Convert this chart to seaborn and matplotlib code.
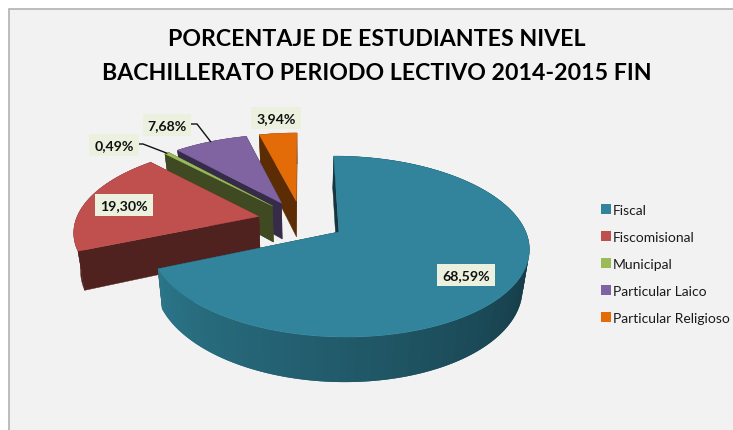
import matplotlib
matplotlib.use("Agg")
import matplotlib.pyplot as plt
import numpy as np
import seaborn as sns
from matplotlib.patches import Patch, Rectangle

categories = ["Fiscal", "Fiscomisional", "Municipal", "Particular Laico", "Particular Religioso"]
values = [68.59, 19.30, 0.49, 7.68, 3.94]
title_lines = ["PORCENTAJE DE ESTUDIANTES NIVEL", "BACHILLERATO PERIODO LECTIVO 2014-2015 FIN"]

top_colors = ["#31849b", "#c0504d", "#9bbb59", "#8064a2", "#e36c09"]
side_colors = ["#14363f", "#4f211f", "#3f4a22", "#372b4a", "#5c2c05"]
rim_colors = ["#14363f", "#12323c", "#1f5463", "#2b7689"]

# label box centres, pixels
label_pos = [(466, 276), (124, 206), (114, 146), (167, 126), (276, 119)]

# projection of the pie plane onto the picture (pixels)
X0, Y0 = 301.5, 221.5
SCALE_X, SCALE_Y = 183, 84.5
PERSP = 0.158
EXPLODE = 0.24
DEPTH = 37
SHRINK = 0.97
N_ARC = 360


def project(x, z, lower=False):
    w = 1 + PERSP * z
    sx = SCALE_X * x / w
    sy = -SCALE_Y * z / w
    if lower:
        return X0 + SHRINK * sx, Y0 + sy + DEPTH / w
    return X0 + sx, Y0 + sy


def slice_plane(start, end, n=N_ARC):
    # angles clockwise from 12 o'clock, returns apex offset and arc points
    mid = np.radians((start + end) / 2)
    ox, oz = EXPLODE * np.sin(mid), EXPLODE * np.cos(mid)
    th = np.radians(np.linspace(start, end, n))
    return ox, oz, ox + np.sin(th), oz + np.cos(th)


def draw_slice(ax, start, end, top, side, rim_palette=None):
    ox, oz, arc_x, arc_z = slice_plane(start, end)

    # cut faces
    for i in [0, -1]:
        ux, uy = project(np.array([ox, arc_x[i]]), np.array([oz, arc_z[i]]))
        lx, ly = project(np.array([ox, arc_x[i]]), np.array([oz, arc_z[i]]), lower=True)
        ax.fill(np.r_[ux, lx[::-1]], np.r_[uy, ly[::-1]], color=side, lw=0.3, zorder=ax.zcount)

    # outer rim, each strip overlaps the next one so no seams show
    ux, uy = project(arc_x, arc_z)
    lx, ly = project(arc_x, arc_z, lower=True)
    if rim_palette is None:
        ax.fill(np.r_[ux, lx[::-1]], np.r_[uy, ly[::-1]], color=side, lw=0.3, zorder=ax.zcount)
    else:
        for i in range(0, N_ARC - 1, 3):
            j = min(i + 6, N_ARC - 1)
            ax.fill(np.r_[ux[i:j + 1], lx[i:j + 1][::-1]], np.r_[uy[i:j + 1], ly[i:j + 1][::-1]],
                    facecolor=rim_palette[i], edgecolor="none", zorder=ax.zcount)

    # top face
    apex_x, apex_y = project(np.array([ox]), np.array([oz]))
    ax.fill(np.r_[apex_x, ux], np.r_[apex_y, uy], color=top, lw=0.3, zorder=ax.zcount + 1)
    ax.zcount += 2


sns.set_theme(style="white")
plt.rcParams["font.family"] = ["Lato", "DejaVu Sans"]

fig = plt.figure(figsize=(7.33, 4.31), dpi=100)
ax = fig.add_axes([0, 0, 1, 1])
ax.set_xlim(0, 733)
ax.set_ylim(431, 0)
ax.axis("off")
ax.zcount = 3

# chart area
ax.add_patch(Rectangle((9, 10), 740, 440, facecolor="#f2f2f2", edgecolor="#b2b2b2", lw=1.2, zorder=1))

# slice angles
edges = np.r_[0, np.cumsum(values)] * 3.6
rim_palette = sns.blend_palette(rim_colors, n_colors=N_ARC)

# back to front
for i in [4, 3, 2, 1, 0]:
    draw_slice(ax, edges[i], edges[i + 1], top_colors[i], side_colors[i],
               rim_palette if i == 0 else None)

# leader lines for the two small labels
for i, elbow in [(2, (143, 145)), (3, (197, 125))]:
    ox, oz, xs, zs = slice_plane(edges[i], edges[i + 1], 3)
    px, py = project(xs[1], zs[1])
    ax.plot([label_pos[i][0], elbow[0], px], [elbow[1], elbow[1], py], color="#111111", lw=1,
            zorder=ax.zcount, solid_joinstyle="miter")

# labels
for val, pos in zip(values, label_pos):
    ax.text(pos[0], pos[1], f"{val:.2f}".replace(".", ",") + "%", ha="center", va="center",
            fontsize=10.2, fontweight="bold", color="#111111", zorder=ax.zcount + 1,
            bbox=dict(boxstyle="square,pad=0.34", facecolor="#ebf1de", edgecolor="none"))

# title
for line, y in zip(title_lines, [39, 74]):
    ax.text(377, y, line, ha="center", va="center", fontsize=16.7, fontweight="bold",
            color="#000000", zorder=ax.zcount)

# legend
handles = [Patch(facecolor=c, edgecolor="none") for c in top_colors]
ax.legend(handles, categories, loc="upper left", bbox_to_anchor=(597, 200.5),
          bbox_transform=ax.transData, frameon=False, fontsize=10, labelcolor="#1a1a1a",
          handlelength=0.72, handleheight=0.72, handletextpad=0.12, labelspacing=1.09,
          borderpad=0.3, borderaxespad=0)

fig.savefig("out.png", dpi=100)
